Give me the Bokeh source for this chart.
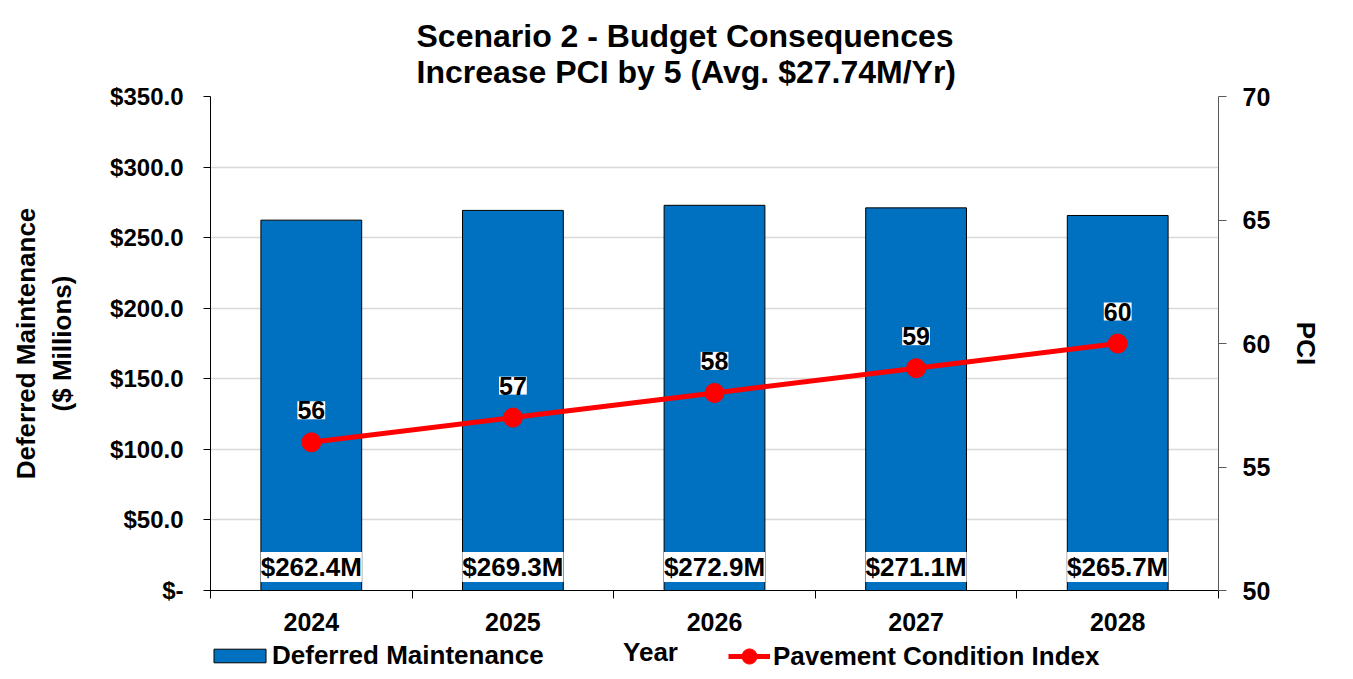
from bokeh.plotting import figure
from bokeh.layouts import column
from bokeh.models import (Range1d, LinearAxis, FixedTicker, ColumnDataSource, LabelSet, Label,
                          Legend, LegendItem, CustomJSTickFormatter)
from bokeh.core.properties import value
from bokeh.embed import file_html
from bokeh.resources import INLINE

# ---- data ----
years = ["2024", "2025", "2026", "2027", "2028"]
deferred = [262.4, 269.3, 272.9, 271.1, 265.7]
pci = [56, 57, 58, 59, 60]
left_ticks = [0, 50, 100, 150, 200, 250, 300, 350]
right_ticks = [50, 55, 60, 65, 70]
title_lines = ["Scenario 2 - Budget Consequences", "Increase PCI by 5 (Avg. $27.74M/Yr)"]
x_title = "Year"
series_names = ["Deferred Maintenance", "Pavement Condition Index"]

FONT = "Liberation Sans"
BLUE = "#0070C0"
RED = "#FF0000"

xpos = [i + 0.5 for i in range(len(years))]
src = ColumnDataSource(dict(
    x=xpos, year=years, dm=deferred, pci=pci,
    dm_label=[f"${v:.1f}M" for v in deferred],
    pci_label=[str(v) for v in pci],
))

W = 1345
H1, H2 = 636, 35
LEFT, RIGHT = 210, W - 1218

# ================= main chart =================
p = figure(width=W, height=H1, x_range=Range1d(0, len(years)), y_range=Range1d(0, 350),
           output_backend="svg", toolbar_location=None,
           min_border_left=LEFT, min_border_right=RIGHT, min_border_top=96,
           min_border_bottom=H1 - 590)
p.extra_y_ranges = {"pci": Range1d(50, 70)}
p.outline_line_color = None
p.background_fill_color = "white"
p.border_fill_color = "white"

p.title.text = "\n".join(title_lines)
p.title.align = "left"
p.title.offset = 206
p.title.text_font = FONT
p.title.text_font_style = "bold"
p.title.text_font_size = "32px"
p.title.text_color = "black"
p.title.standoff = 14

p.xgrid.visible = False
p.ygrid.ticker = FixedTicker(ticks=left_ticks)
p.ygrid.grid_line_color = "#d9d9d9"
p.ygrid.grid_line_width = 1.5

p.vbar(x="x", top="dm", width=0.5, source=src, fill_color=BLUE,
       line_color="black", line_width=1)
p.line(x="x", y="pci", source=src, y_range_name="pci", line_color=RED, line_width=5)
p.scatter(x="x", y="pci", source=src, y_range_name="pci", size=19,
          fill_color=RED, line_color=RED)

# left axis
yax = p.yaxis[0]
yax.ticker = FixedTicker(ticks=left_ticks)
yax.formatter = CustomJSTickFormatter(code="return tick == 0 ? '$-' : '$' + tick.toFixed(1);")
yax.minor_tick_line_color = None
yax.major_tick_in = 0
yax.major_tick_out = 7
yax.major_label_standoff = 20
yax.axis_line_color = "black"
yax.major_tick_line_color = "black"
yax.major_label_text_font = FONT
yax.major_label_text_font_style = "bold"
yax.major_label_text_font_size = "24px"
yax.major_label_text_color = "black"
yax.axis_label = "Deferred Maintenance\n($ Millions)"
yax.axis_label_text_font = FONT
yax.axis_label_text_font_style = "bold"
yax.axis_label_text_font_size = "26px"
yax.axis_label_text_color = "black"
yax.axis_label_standoff = 30

# right axis
rax = LinearAxis(y_range_name="pci", ticker=FixedTicker(ticks=right_ticks))
rax.minor_tick_line_color = None
rax.major_tick_in = 0
rax.major_tick_out = 8
rax.major_label_standoff = 16
rax.axis_line_color = "#595959"
rax.major_tick_line_color = "#595959"
rax.major_label_text_font = FONT
rax.major_label_text_font_style = "bold"
rax.major_label_text_font_size = "25px"
rax.major_label_text_color = "black"
rax.axis_label = "PCI"
rax.axis_label_text_font = FONT
rax.axis_label_text_font_style = "bold"
rax.axis_label_text_font_size = "26px"
rax.axis_label_text_color = "black"
rax.axis_label_standoff = 18
p.add_layout(rax, "right")

# bottom axis
xax = p.xaxis[0]
xax.ticker = FixedTicker(ticks=xpos, minor_ticks=list(range(len(years) + 1)))
xax.formatter = CustomJSTickFormatter(args=dict(labels=years),
                                      code="return labels[Math.floor(tick)];")
xax.major_tick_line_color = None
xax.major_tick_in = 0
xax.major_tick_out = 0
xax.minor_tick_in = 0
xax.minor_tick_out = 8
xax.minor_tick_line_color = "black"
xax.axis_line_color = "black"
xax.major_label_standoff = 14
xax.major_label_text_font = FONT
xax.major_label_text_font_style = "bold"
xax.major_label_text_font_size = "25px"
xax.major_label_text_color = "black"

# data labels
p.add_layout(LabelSet(x="x", y="pci", text="pci_label", y_range_name="pci", source=src,
                      y_offset=32, text_align="center", text_baseline="middle",
                      text_font=value(FONT), text_font_style="bold", text_font_size="25px",
                      text_color="black", background_fill_color="white"))
p.add_layout(LabelSet(x="x", y=0, text="dm_label", source=src,
                      y_offset=23.5, text_align="center", text_baseline="middle",
                      text_font=value(FONT), text_font_style="bold", text_font_size="26px",
                      text_color="black", background_fill_color="white"))

# ================= strip below: x title + legend =================
q = figure(width=W, height=H2, x_range=Range1d(100, 101), y_range=Range1d(100, 101),
           x_axis_type=None, y_axis_type=None, title=None, output_backend="svg",
           toolbar_location=None, min_border_left=LEFT, min_border_right=RIGHT,
           min_border_top=0, min_border_bottom=0)
q.outline_line_color = None
q.background_fill_color = "white"
q.border_fill_color = "white"
# legend sample renderers (same data; not drawn in the strip itself)
lb = q.vbar(x="x", top="dm", width=0.5, source=src, fill_color=BLUE,
            line_color="black", line_width=1)
ll = q.line(x="x", y="pci", source=src, line_color=RED, line_width=5)
ls = q.scatter(x="x", y="pci", source=src, size=19, fill_color=RED, line_color=RED)
for r in (lb, ll, ls):
    r.visible = False

q.add_layout(Label(x=650 - LEFT, y=20, x_units="screen", y_units="screen", text=x_title,
                   text_align="center", text_baseline="middle", text_font=FONT,
                   text_font_style="bold", text_font_size="26px", text_color="black"))

common = dict(orientation="horizontal", padding=0, margin=0, border_line_color=None,
              background_fill_alpha=0, inactive_fill_alpha=0, label_text_font=FONT,
              label_text_font_style="bold", label_text_font_size="26px",
              label_text_color="black")
leg1 = Legend(items=[LegendItem(label=series_names[0], renderers=[lb])],
              location=(207 - LEFT, 0), glyph_width=65, glyph_height=17, label_standoff=0,
              **common)
leg2 = Legend(items=[LegendItem(label=series_names[1], renderers=[ll, ls])],
              location=(728 - LEFT, -4), glyph_width=42, glyph_height=38, label_standoff=3,
              **common)
q.add_layout(leg1)
q.add_layout(leg2)

lay = column(p, q, spacing=0)
open("out.html", "w").write(file_html(lay, INLINE))
